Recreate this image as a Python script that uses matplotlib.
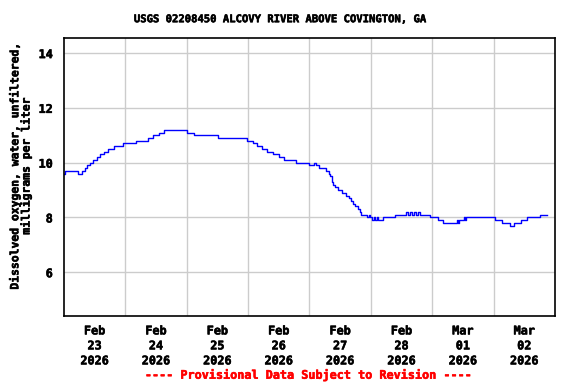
import numpy as np
import pandas as pd
import matplotlib
matplotlib.use("Agg")
import matplotlib.pyplot as plt
import matplotlib.patheffects as pe

# step points: hours after 2026-02-23 00:00, mg/L
hours = [0.0, 0.4, 5.6, 6.9, 8.2, 9.1, 10.2, 11.5, 12.8, 14.1, 15.7, 17.3,
         19.6, 23.2, 28.1, 33.0, 35.0, 37.0, 39.2, 48.0, 51.0, 60.4, 71.5,
         73.9, 75.4, 77.4, 79.3, 81.9, 83.9, 86.1, 90.7, 95.8, 97.8, 98.5,
         99.6, 102.6, 103.5, 104.1, 104.8, 105.4, 106.1, 107.0, 108.7, 110.1,
         111.3, 112.2, 112.9, 113.9, 114.8, 115.6, 116.3, 118.5, 119.1, 119.6,
         120.5, 121.2, 121.8, 122.3, 122.8, 124.8, 129.6, 133.9, 134.6, 135.3,
         136.0, 136.8, 137.6, 138.4, 139.4, 143.0, 146.2, 148.3, 153.5, 154.0,
         154.5, 156.3, 156.8, 157.3, 168.7, 171.1, 174.3, 175.9, 178.8, 180.9,
         186.1, 189.0]
values = [9.6, 9.7, 9.6, 9.7, 9.8, 9.9, 10.0, 10.1, 10.2, 10.3, 10.4, 10.5,
          10.6, 10.7, 10.8, 10.9, 11.0, 11.1, 11.2, 11.1, 11.0, 10.9, 10.8,
          10.7, 10.6, 10.5, 10.4, 10.3, 10.2, 10.1, 10.0, 9.9, 10.0, 9.9,
          9.8, 9.7, 9.6, 9.5, 9.3, 9.2, 9.1, 9.0, 8.9, 8.8,
          8.7, 8.6, 8.5, 8.4, 8.3, 8.2, 8.1, 8.0, 8.1, 8.0,
          7.9, 8.0, 7.9, 8.0, 7.9, 8.0, 8.1, 8.2, 8.1, 8.2,
          8.1, 8.2, 8.1, 8.2, 8.1, 8.0, 7.9, 7.8, 7.9, 7.8,
          7.9, 8.0, 7.9, 8.0, 7.9, 7.8, 7.7, 7.8, 7.9, 8.0,
          8.1, 8.1]

start = pd.Timestamp("2026-02-23 00:00")
times = [start + pd.Timedelta(hours=h) for h in hours]

title = "USGS 02208450 ALCOVY RIVER ABOVE COVINGTON, GA"
ylabel = "Dissolved oxygen, water, unfiltered,\nmilligrams per liter"
footer = "---- Provisional Data Subject to Revision ----"

plt.rcParams["font.family"] = ["DejaVu Sans Mono"]
plt.rcParams["font.weight"] = "bold"

# thicken the strokes a bit, the original uses a heavy bitmap font
def heavy(color="black"):
    return [pe.withStroke(linewidth=0.4, foreground=color)]

fig = plt.figure(figsize=(5.76, 3.84), dpi=100)
ax = fig.add_axes([0.111, 0.177, 0.8525, 0.724])

ax.plot(times, values, drawstyle="steps-post", color="#0000ff", linewidth=1.0)

ax.set_xlim(start, start + pd.Timedelta(days=8))
ax.set_ylim(4.4, 14.55)
ax.set_yticks([6, 8, 10, 12, 14])

# vertical grid at midnight, labels at noon
day_edges = [start + pd.Timedelta(days=d) for d in range(1, 8)]
day_mids = [start + pd.Timedelta(days=d, hours=12) for d in range(8)]
ax.set_xticks(day_edges, minor=True)
ax.set_xticks(day_mids)
ax.set_xticklabels([t.strftime("%b\n%d\n%Y") for t in day_mids])

ax.grid(True, which="minor", axis="x", color="#cccccc", linewidth=1)
ax.grid(True, which="major", axis="y", color="#cccccc", linewidth=1)
ax.grid(False, which="major", axis="x")
ax.set_axisbelow(True)
ax.tick_params(axis="both", which="both", length=0, labelsize=8.5, pad=6)
ax.tick_params(axis="y", pad=8)
for lbl in ax.get_xticklabels() + ax.get_yticklabels():
    lbl.set_fontweight("bold")
    lbl.set_path_effects(heavy())
for s in ax.spines.values():
    s.set_linewidth(1.2)

ax.set_ylabel(ylabel, fontsize=8.2, linespacing=1.15, fontweight="bold",
              path_effects=heavy())
ax.yaxis.set_label_coords(-0.066, 0.54)
fig.text(0.487, 0.95, title, ha="center", va="center", fontsize=7.6,
         fontweight="bold", path_effects=heavy())
fig.text(0.536, 0.023, footer, ha="center", va="center", fontsize=8.5,
         color="#ff0000", fontweight="bold", path_effects=heavy("#ff0000"))

fig.savefig("out.png", dpi=100)
